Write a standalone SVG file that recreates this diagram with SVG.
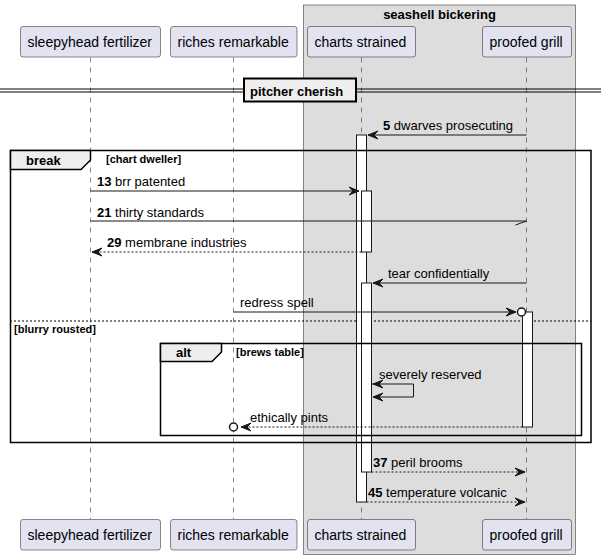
<svg xmlns="http://www.w3.org/2000/svg" width="607" height="560" viewBox="0 0 607 560">
<style>
text{font-family:"Liberation Sans",Arial,sans-serif;fill:#000}
.pn{font-size:14px}
.msg{font-size:13px}
.b{font-weight:bold}
.grd{font-size:11px;font-weight:bold}
.part{fill:#E2E2F0;stroke:#181818;stroke-width:0.5}
.life{stroke:#181818;stroke-width:0.5;stroke-dasharray:5,5;fill:none}
.bar{fill:#FFFFFF;stroke:#181818;stroke-width:1}
.frame{fill:none;stroke:#000;stroke-width:1.5}
.tab{fill:#EEEEEE;stroke:#000;stroke-width:1.5}
.ln{stroke:#181818;stroke-width:1;fill:none}
.dash{stroke:#181818;stroke-width:1;stroke-dasharray:2,2;fill:none}
.head{fill:#181818;stroke:#181818;stroke-width:1}
</style>
<rect x="303.5" y="5" width="272" height="549.5" fill="#DDDDDD" stroke="#181818" stroke-width="0.5"/>
<text x="439.5" y="19" class="b" font-size="13" text-anchor="middle">seashell bickering</text>
<g id="lifelines">
<line class="life" x1="90.5" y1="57.5" x2="90.5" y2="519"/>
<line class="life" x1="233.5" y1="57.5" x2="233.5" y2="519"/>
<line class="life" x1="361.5" y1="57.5" x2="361.5" y2="519"/>
<line class="life" x1="526.5" y1="57.5" x2="526.5" y2="519"/>
</g>
<line x1="10" y1="321" x2="591" y2="321" stroke="#000" stroke-width="1" stroke-dasharray="2,2"/>
<g id="activations">
<rect class="bar" x="356.5" y="135" width="10" height="367"/>
<rect class="bar" x="361.5" y="191" width="10" height="61"/>
<rect class="bar" x="361.5" y="283" width="10" height="189"/>
<rect class="bar" x="522.5" y="312" width="10" height="115"/>
</g>
<g id="divider">
<line x1="0" y1="89" x2="601" y2="89" stroke="#000" stroke-width="1"/>
<line x1="0" y1="92" x2="601" y2="92" stroke="#000" stroke-width="1"/>
<rect x="244" y="78.5" width="112" height="23" fill="#EEEEEE" stroke="#000" stroke-width="2"/>
<text x="250" y="95.5" class="b" font-size="13">pitcher cherish</text>
</g>
<g id="frame-break">
<rect class="frame" x="10.5" y="150.5" width="580.5" height="292"/>
<polygon class="tab" points="10.5,150.5 90.5,150.5 90.5,160 81,169.5 10.5,169.5"/>
<text x="26" y="164.5" class="b" font-size="13">break</text>
<text x="106" y="163" class="grd">[chart dweller]</text>
<text x="14" y="332.5" class="grd">[blurry rousted]</text>
</g>
<g id="frame-alt">
<rect class="frame" x="160.5" y="343.5" width="421" height="92"/>
<polygon class="tab" points="160.5,343.5 221.5,343.5 221.5,352 212,361.5 160.5,361.5"/>
<text x="176" y="357" class="b" font-size="13">alt</text>
<text x="236" y="356" class="grd">[brews table]</text>
</g>
<g id="connectors">
<line class="ln" x1="526.5" y1="135" x2="368" y2="135"/>
<polygon class="head" points="378,131 368,135 378,139 374,135"/>
<text x="383" y="130" class="msg"><tspan class="b">5</tspan> dwarves prosecuting</text>

<line class="ln" x1="90.5" y1="191" x2="359" y2="191"/>
<polygon class="head" points="349,187 359,191 349,195 353,191"/>
<text x="97" y="186" class="msg"><tspan class="b">13</tspan> brr patented</text>

<line class="ln" x1="90.5" y1="221" x2="526.5" y2="221"/>
<line class="ln" x1="526.5" y1="221" x2="515.5" y2="225"/>
<text x="97" y="216.5" class="msg"><tspan class="b">21</tspan> thirty standards</text>

<line class="dash" x1="361.5" y1="252" x2="92" y2="252"/>
<polygon class="head" points="102,248 92,252 102,256 98,252"/>
<text x="107" y="247" class="msg"><tspan class="b">29</tspan> membrane industries</text>

<line class="ln" x1="526.5" y1="283" x2="373" y2="283"/>
<polygon class="head" points="383,279 373,283 383,287 379,283"/>
<text x="388" y="278" class="msg">tear confidentially</text>

<line class="ln" x1="233.5" y1="312" x2="516" y2="312"/>
<polygon class="head" points="506,308 516,312 506,316 510,312"/>
<circle cx="521.5" cy="312" r="4" fill="#FFFFFF" stroke="#181818" stroke-width="1.5"/>
<text x="240" y="307" class="msg">redress spell</text>

<polyline class="ln" points="372,384 413.5,384 413.5,397 373,397"/>
<polygon class="head" points="383,380 373,384 383,388 379,384"/>
<polygon class="head" points="383,393 373,397 383,401 379,397"/>
<text x="379" y="379" class="msg">severely reserved</text>

<line class="dash" x1="522.5" y1="427" x2="241" y2="427"/>
<polygon class="head" points="251,423 241,427 251,431 247,427"/>
<circle cx="233.5" cy="427" r="4" fill="#FFFFFF" stroke="#181818" stroke-width="1.5"/>
<text x="250" y="422" class="msg">ethically pints</text>

<line class="dash" x1="371.5" y1="472" x2="525" y2="472"/>
<polygon class="head" points="515,468 525,472 515,476 519,472"/>
<text x="373" y="467" class="msg"><tspan class="b">37</tspan> peril brooms</text>

<line class="dash" x1="366.5" y1="502" x2="525" y2="502"/>
<polygon class="head" points="515,498 525,502 515,506 519,502"/>
<text x="368" y="497" class="msg"><tspan class="b">45</tspan> temperature volcanic</text>
</g>
<g id="p-sleepyhead">
<rect class="part" x="20.5" y="26.5" width="140" height="30.5" rx="2.5"/>
<text x="27.5" y="47" class="pn">sleepyhead fertilizer</text>
<rect class="part" x="20.5" y="519.5" width="140" height="30.5" rx="2.5"/>
<text x="27.5" y="540" class="pn">sleepyhead fertilizer</text>
</g>
<g id="p-riches">
<rect class="part" x="170.5" y="26.5" width="126.5" height="30.5" rx="2.5"/>
<text x="177.5" y="47" class="pn">riches remarkable</text>
<rect class="part" x="170.5" y="519.5" width="126.5" height="30.5" rx="2.5"/>
<text x="177.5" y="540" class="pn">riches remarkable</text>
</g>
<g id="p-charts">
<rect class="part" x="307.5" y="26.5" width="108" height="30.5" rx="2.5"/>
<text x="314.5" y="47" class="pn">charts strained</text>
<rect class="part" x="307.5" y="519.5" width="108" height="30.5" rx="2.5"/>
<text x="314.5" y="540" class="pn">charts strained</text>
</g>
<g id="p-proofed">
<rect class="part" x="482.5" y="26.5" width="89" height="30.5" rx="2.5"/>
<text x="489.5" y="47" class="pn">proofed grill</text>
<rect class="part" x="482.5" y="519.5" width="89" height="30.5" rx="2.5"/>
<text x="489.5" y="540" class="pn">proofed grill</text>
</g>
</svg>
